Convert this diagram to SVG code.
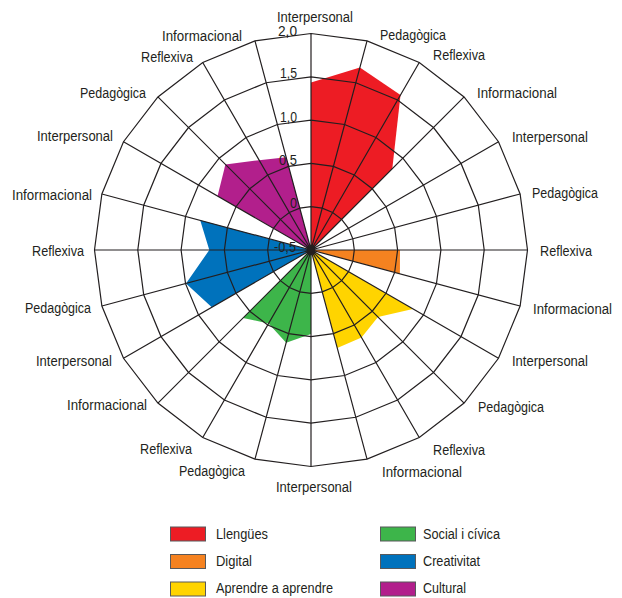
<svg xmlns="http://www.w3.org/2000/svg" width="622" height="598" viewBox="0 0 622 598">
<style>
.t{font-family:"Liberation Sans",Arial,sans-serif;font-size:15.5px;fill:#231f20}
.tk{font-family:"Liberation Sans",Arial,sans-serif;font-size:15px;fill:#231f20;text-anchor:end}
.m{text-anchor:middle}.s{text-anchor:start}.e{text-anchor:end}
.ring{fill:none;stroke:#231f20;stroke-width:1.2;stroke-linejoin:miter}
.sw{stroke:#58595b;stroke-width:1}
</style>
<rect width="622" height="598" fill="#fff"/>
<g id="series" transform="translate(311,250)">
<polygon id="lengues" fill="#ed1c24" points="0,0 0,-167.5 48.9,-182.6 89.5,-155 81.3,-81.3"/>
<polygon id="digital" fill="#f58220" points="0,0 89,0 88.9,23.8"/>
<polygon id="aprendre" fill="#ffd400" points="0,0 101.9,58.9 67,67 50.5,87.5 26.3,98"/>
<polygon id="social" fill="#3db54a" points="0,0 0,84 -24.8,92.7 -42.5,73.6 -67.9,67.9"/>
<polygon id="creativitat" fill="#0072bc" points="0,0 -99.2,57.3 -125,33.5 -101.7,0 -110.8,-29.7"/>
<polygon id="cultural" fill="#b21f8c" points="0,0 -93.4,-53.9 -85.6,-85.6 -51.9,-89.8 -24.8,-92.7"/>
</g>
<g id="grid" transform="translate(311,250)">
<polygon class="ring" points="0,-216.5 56.03,-209.12 108.25,-187.49 153.09,-153.09 187.49,-108.25 209.12,-56.03 216.5,0 209.12,56.03 187.49,108.25 153.09,153.09 108.25,187.49 56.03,209.12 0,216.5 -56.03,209.12 -108.25,187.49 -153.09,153.09 -187.49,108.25 -209.12,56.03 -216.5,0 -209.12,-56.03 -187.49,-108.25 -153.09,-153.09 -108.25,-187.49 -56.03,-209.12"/>
<polygon class="ring" points="0,-173.2 44.82,-167.29 86.6,-150 122.47,-122.47 150,-86.6 167.29,-44.82 173.2,0 167.29,44.82 150,86.6 122.47,122.47 86.6,150 44.82,167.29 0,173.2 -44.82,167.29 -86.6,150 -122.47,122.47 -150,86.6 -167.29,44.82 -173.2,0 -167.29,-44.82 -150,-86.6 -122.47,-122.47 -86.6,-150 -44.82,-167.29"/>
<polygon class="ring" points="0,-129.9 33.62,-125.47 64.95,-112.49 91.85,-91.85 112.49,-64.95 125.47,-33.62 129.9,0 125.47,33.62 112.49,64.95 91.85,91.85 64.95,112.49 33.62,125.47 0,129.9 -33.62,125.47 -64.95,112.49 -91.85,91.85 -112.49,64.95 -125.47,33.62 -129.9,0 -125.47,-33.62 -112.49,-64.95 -91.85,-91.85 -64.95,-112.49 -33.62,-125.47"/>
<polygon class="ring" points="0,-86.6 22.41,-83.65 43.3,-75 61.24,-61.24 75,-43.3 83.65,-22.41 86.6,0 83.65,22.41 75,43.3 61.24,61.24 43.3,75 22.41,83.65 0,86.6 -22.41,83.65 -43.3,75 -61.24,61.24 -75,43.3 -83.65,22.41 -86.6,0 -83.65,-22.41 -75,-43.3 -61.24,-61.24 -43.3,-75 -22.41,-83.65"/>
<polygon class="ring" points="0,-43.3 11.21,-41.82 21.65,-37.5 30.62,-30.62 37.5,-21.65 41.82,-11.21 43.3,0 41.82,11.21 37.5,21.65 30.62,30.62 21.65,37.5 11.21,41.82 0,43.3 -11.21,41.82 -21.65,37.5 -30.62,30.62 -37.5,21.65 -41.82,11.21 -43.3,0 -41.82,-11.21 -37.5,-21.65 -30.62,-30.62 -21.65,-37.5 -11.21,-41.82"/>
<path class="ring" d="M0,0L0,-216.5M0,0L56.03,-209.12M0,0L108.25,-187.49M0,0L153.09,-153.09M0,0L187.49,-108.25M0,0L209.12,-56.03M0,0L216.5,0M0,0L209.12,56.03M0,0L187.49,108.25M0,0L153.09,153.09M0,0L108.25,187.49M0,0L56.03,209.12M0,0L0,216.5M0,0L-56.03,209.12M0,0L-108.25,187.49M0,0L-153.09,153.09M0,0L-187.49,108.25M0,0L-209.12,56.03M0,0L-216.5,0M0,0L-209.12,-56.03M0,0L-187.49,-108.25M0,0L-153.09,-153.09M0,0L-108.25,-187.49M0,0L-56.03,-209.12"/>
<circle r="2.5" fill="#231f20"/>
</g>
<g id="ticks">
<text class="tk" x="297" y="35.5" textLength="19" lengthAdjust="spacingAndGlyphs">2,0</text>
<text class="tk" x="297" y="78" textLength="17" lengthAdjust="spacingAndGlyphs">1,5</text>
<text class="tk" x="297" y="122" textLength="17" lengthAdjust="spacingAndGlyphs">1,0</text>
<text class="tk" x="297" y="165" textLength="18" lengthAdjust="spacingAndGlyphs">0,5</text>
<text class="tk" x="297" y="208" textLength="7" lengthAdjust="spacingAndGlyphs">0</text>
<text class="tk" x="296" y="252" textLength="22" lengthAdjust="spacingAndGlyphs">-0,5</text>
</g>
<g id="axis-labels" class="t">
<text class="m" x="315" y="21.5" textLength="76" lengthAdjust="spacingAndGlyphs">Interpersonal</text>
<text class="s" x="380" y="40" textLength="66" lengthAdjust="spacingAndGlyphs">Pedagògica</text>
<text class="s" x="433" y="60" textLength="52" lengthAdjust="spacingAndGlyphs">Reflexiva</text>
<text class="s" x="477" y="98" textLength="80" lengthAdjust="spacingAndGlyphs">Informacional</text>
<text class="s" x="512" y="142" textLength="76" lengthAdjust="spacingAndGlyphs">Interpersonal</text>
<text class="s" x="532" y="198" textLength="66" lengthAdjust="spacingAndGlyphs">Pedagògica</text>
<text class="s" x="540" y="256" textLength="52" lengthAdjust="spacingAndGlyphs">Reflexiva</text>
<text class="s" x="533" y="314" textLength="79" lengthAdjust="spacingAndGlyphs">Informacional</text>
<text class="s" x="512" y="366" textLength="76" lengthAdjust="spacingAndGlyphs">Interpersonal</text>
<text class="s" x="478" y="412" textLength="66" lengthAdjust="spacingAndGlyphs">Pedagògica</text>
<text class="s" x="433" y="455" textLength="52" lengthAdjust="spacingAndGlyphs">Reflexiva</text>
<text class="s" x="382" y="477" textLength="80" lengthAdjust="spacingAndGlyphs">Informacional</text>
<text class="m" x="314" y="492" textLength="76" lengthAdjust="spacingAndGlyphs">Interpersonal</text>
<text class="e" x="245" y="476" textLength="66" lengthAdjust="spacingAndGlyphs">Pedagògica</text>
<text class="e" x="192" y="454" textLength="52" lengthAdjust="spacingAndGlyphs">Reflexiva</text>
<text class="e" x="147" y="410" textLength="80" lengthAdjust="spacingAndGlyphs">Informacional</text>
<text class="e" x="112" y="366" textLength="76" lengthAdjust="spacingAndGlyphs">Interpersonal</text>
<text class="e" x="91" y="313" textLength="66" lengthAdjust="spacingAndGlyphs">Pedagògica</text>
<text class="e" x="84" y="256" textLength="52" lengthAdjust="spacingAndGlyphs">Reflexiva</text>
<text class="e" x="92" y="200" textLength="80" lengthAdjust="spacingAndGlyphs">Informacional</text>
<text class="e" x="113" y="141" textLength="76" lengthAdjust="spacingAndGlyphs">Interpersonal</text>
<text class="e" x="146" y="98" textLength="66" lengthAdjust="spacingAndGlyphs">Pedagògica</text>
<text class="e" x="193" y="62" textLength="52" lengthAdjust="spacingAndGlyphs">Reflexiva</text>
<text class="e" x="242" y="41" textLength="80" lengthAdjust="spacingAndGlyphs">Informacional</text>
</g>
<g id="legend">
<g id="leg-lengues"><rect class="sw" x="170.5" y="527" width="35" height="14" fill="#ed1c24"/><text class="t" x="216" y="538.5" textLength="52" lengthAdjust="spacingAndGlyphs">Llengües</text></g>
<g id="leg-digital"><rect class="sw" x="170.5" y="554.5" width="35" height="14" fill="#f58220"/><text class="t" x="216" y="566" textLength="36" lengthAdjust="spacingAndGlyphs">Digital</text></g>
<g id="leg-aprendre"><rect class="sw" x="170.5" y="582" width="35" height="14" fill="#ffd400"/><text class="t" x="216" y="593.3" textLength="117" lengthAdjust="spacingAndGlyphs">Aprendre a aprendre</text></g>
<g id="leg-social"><rect class="sw" x="380.5" y="527" width="35" height="14" fill="#3db54a"/><text class="t" x="423" y="538.5" textLength="77" lengthAdjust="spacingAndGlyphs">Social i cívica</text></g>
<g id="leg-creativitat"><rect class="sw" x="380.5" y="554.5" width="35" height="14" fill="#0072bc"/><text class="t" x="423" y="566" textLength="57" lengthAdjust="spacingAndGlyphs">Creativitat</text></g>
<g id="leg-cultural"><rect class="sw" x="380.5" y="582" width="35" height="14" fill="#b21f8c"/><text class="t" x="423" y="593.3" textLength="43" lengthAdjust="spacingAndGlyphs">Cultural</text></g>
</g>
</svg>
